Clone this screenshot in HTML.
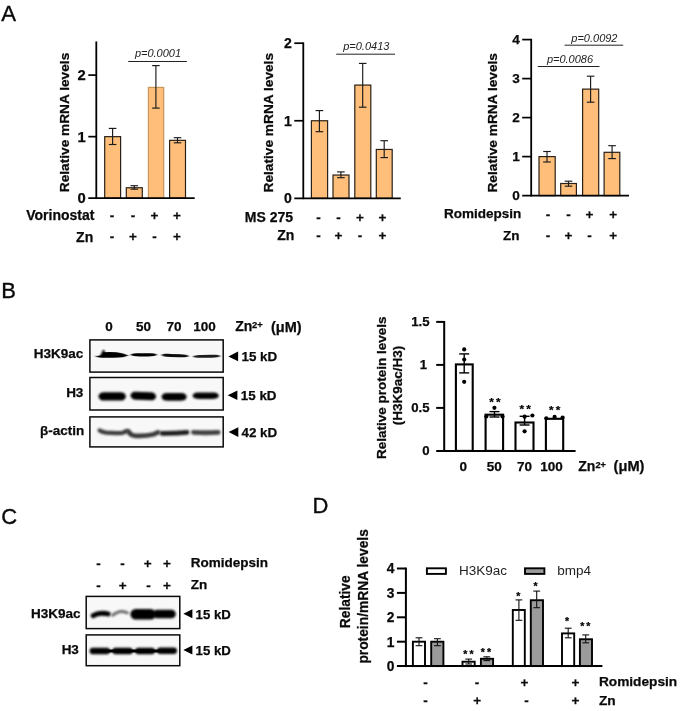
<!DOCTYPE html>
<html lang="en"><head><meta charset="utf-8"><title>Figure</title>
<style>html,body{margin:0;padding:0;background:#fff;}body{width:685px;height:711px;overflow:hidden;}svg{display:block;filter:blur(0.4px);}</style>
</head><body>
<svg width="685" height="711" viewBox="0 0 685 711">
<defs>
<filter id="b1" filterUnits="userSpaceOnUse" x="80" y="330" width="150" height="340"><feGaussianBlur stdDeviation="0.9 0.55"/></filter>
<filter id="b2" filterUnits="userSpaceOnUse" x="80" y="330" width="150" height="340"><feGaussianBlur stdDeviation="1.1 0.8"/></filter>
<filter id="b3" filterUnits="userSpaceOnUse" x="80" y="330" width="150" height="340"><feGaussianBlur stdDeviation="1.6 0.7"/></filter>
</defs>
<rect width="685" height="711" fill="#fff"/>
<text x="1.2" y="20.6" font-size="22.2" text-anchor="start" font-family="Liberation Sans, sans-serif" fill="#0a0a0a" stroke="#0a0a0a" stroke-width="0.35">A</text>
<text x="1.3" y="298.1" font-size="22" text-anchor="start" font-family="Liberation Sans, sans-serif" fill="#0a0a0a" stroke="#0a0a0a" stroke-width="0.35">B</text>
<text x="1.2" y="523.5" font-size="22" text-anchor="start" font-family="Liberation Sans, sans-serif" fill="#0a0a0a" stroke="#0a0a0a" stroke-width="0.35">C</text>
<text x="312.4" y="513.4" font-size="22" text-anchor="start" font-family="Liberation Sans, sans-serif" fill="#0a0a0a" stroke="#0a0a0a" stroke-width="0.35">D</text>
<rect x="104.70" y="136.65" width="15.90" height="61.55" fill="#ffbf7a" stroke="#2a2016" stroke-width="1.2"/>
<rect x="126.30" y="187.74" width="16.00" height="10.46" fill="#ffbf7a" stroke="#2a2016" stroke-width="1.2"/>
<rect x="148.40" y="87.41" width="15.30" height="110.79" fill="#ffbf7a" stroke="#c8965c" stroke-width="1.2"/>
<rect x="169.60" y="140.34" width="15.90" height="57.86" fill="#ffbf7a" stroke="#2a2016" stroke-width="1.2"/>
<line x1="112.6" y1="128.4" x2="112.6" y2="144.5" stroke="#1a1a1a" stroke-width="1.15"/>
<line x1="108.8" y1="128.4" x2="116.39999999999999" y2="128.4" stroke="#1a1a1a" stroke-width="1.15"/>
<line x1="108.8" y1="144.5" x2="116.39999999999999" y2="144.5" stroke="#1a1a1a" stroke-width="1.15"/>
<line x1="134.3" y1="185.7" x2="134.3" y2="189.2" stroke="#1a1a1a" stroke-width="1.15"/>
<line x1="130.5" y1="185.7" x2="138.10000000000002" y2="185.7" stroke="#1a1a1a" stroke-width="1.15"/>
<line x1="130.5" y1="189.2" x2="138.10000000000002" y2="189.2" stroke="#1a1a1a" stroke-width="1.15"/>
<line x1="155.9" y1="65.6" x2="155.9" y2="108.1" stroke="#1a1a1a" stroke-width="1.15"/>
<line x1="152.1" y1="65.6" x2="159.70000000000002" y2="65.6" stroke="#1a1a1a" stroke-width="1.15"/>
<line x1="152.1" y1="108.1" x2="159.70000000000002" y2="108.1" stroke="#1a1a1a" stroke-width="1.15"/>
<line x1="177.5" y1="137.7" x2="177.5" y2="142.8" stroke="#1a1a1a" stroke-width="1.15"/>
<line x1="173.7" y1="137.7" x2="181.3" y2="137.7" stroke="#1a1a1a" stroke-width="1.15"/>
<line x1="173.7" y1="142.8" x2="181.3" y2="142.8" stroke="#1a1a1a" stroke-width="1.15"/>
<line x1="96.3" y1="41.449999999999996" x2="96.3" y2="199.04999999999998" stroke="#000" stroke-width="1.8"/>
<line x1="88.3" y1="198.2" x2="194.7" y2="198.2" stroke="#000" stroke-width="1.8"/>
<text x="85.8" y="203.49839999999998" font-size="14.8" text-anchor="end" font-family="Liberation Sans, sans-serif" font-weight="bold" stroke="#0a0a0a" stroke-width="0.25" fill="#0a0a0a" >0</text>
<line x1="88.3" y1="136.64999999999998" x2="96.3" y2="136.64999999999998" stroke="#000" stroke-width="1.7"/>
<text x="85.8" y="141.94839999999996" font-size="14.8" text-anchor="end" font-family="Liberation Sans, sans-serif" font-weight="bold" stroke="#0a0a0a" stroke-width="0.25" fill="#0a0a0a" >1</text>
<line x1="88.3" y1="75.1" x2="96.3" y2="75.1" stroke="#000" stroke-width="1.7"/>
<text x="85.8" y="80.3984" font-size="14.8" text-anchor="end" font-family="Liberation Sans, sans-serif" font-weight="bold" stroke="#0a0a0a" stroke-width="0.25" fill="#0a0a0a" >2</text>
<text transform="translate(69.4,122.5) rotate(-90)" font-size="13.7" text-anchor="middle" font-family="Liberation Sans, sans-serif" font-weight="bold" stroke="#0a0a0a" stroke-width="0.25" fill="#0a0a0a">Relative mRNA levels</text>
<line x1="128.2" y1="61.5" x2="186.9" y2="61.5" stroke="#222" stroke-width="1.0"/>
<text x="158" y="57.1" font-size="11" text-anchor="middle" font-family="Liberation Sans, sans-serif" font-style="italic" fill="#222" >p=0.0001</text>
<text x="94.4" y="219.5" font-size="14" text-anchor="end" font-family="Liberation Sans, sans-serif" font-weight="bold" stroke="#0a0a0a" stroke-width="0.25" fill="#0a0a0a" >Vorinostat</text>
<text x="93.2" y="241.5" font-size="14" text-anchor="end" font-family="Liberation Sans, sans-serif" font-weight="bold" stroke="#0a0a0a" stroke-width="0.25" fill="#0a0a0a" >Zn</text>
<text x="112" y="219.6" font-size="13.5" text-anchor="middle" font-family="Liberation Sans, sans-serif" font-weight="bold" stroke="#0a0a0a" stroke-width="0.25" fill="#0a0a0a" >-</text>
<text x="133" y="219.6" font-size="13.5" text-anchor="middle" font-family="Liberation Sans, sans-serif" font-weight="bold" stroke="#0a0a0a" stroke-width="0.25" fill="#0a0a0a" >-</text>
<text x="154.5" y="219.6" font-size="13.5" text-anchor="middle" font-family="Liberation Sans, sans-serif" font-weight="bold" stroke="#0a0a0a" stroke-width="0.25" fill="#0a0a0a" >+</text>
<text x="177" y="219.6" font-size="13.5" text-anchor="middle" font-family="Liberation Sans, sans-serif" font-weight="bold" stroke="#0a0a0a" stroke-width="0.25" fill="#0a0a0a" >+</text>
<text x="112" y="241.3" font-size="13.5" text-anchor="middle" font-family="Liberation Sans, sans-serif" font-weight="bold" stroke="#0a0a0a" stroke-width="0.25" fill="#0a0a0a" >-</text>
<text x="133" y="241.3" font-size="13.5" text-anchor="middle" font-family="Liberation Sans, sans-serif" font-weight="bold" stroke="#0a0a0a" stroke-width="0.25" fill="#0a0a0a" >+</text>
<text x="154.5" y="241.3" font-size="13.5" text-anchor="middle" font-family="Liberation Sans, sans-serif" font-weight="bold" stroke="#0a0a0a" stroke-width="0.25" fill="#0a0a0a" >-</text>
<text x="177" y="241.3" font-size="13.5" text-anchor="middle" font-family="Liberation Sans, sans-serif" font-weight="bold" stroke="#0a0a0a" stroke-width="0.25" fill="#0a0a0a" >+</text>
<rect x="311.40" y="120.75" width="16.20" height="77.55" fill="#ffbf7a" stroke="#2a2016" stroke-width="1.2"/>
<rect x="333.00" y="175.04" width="16.00" height="23.26" fill="#ffbf7a" stroke="#2a2016" stroke-width="1.2"/>
<rect x="354.80" y="85.08" width="16.00" height="113.22" fill="#ffbf7a" stroke="#2a2016" stroke-width="1.2"/>
<rect x="376.30" y="149.44" width="15.90" height="48.86" fill="#ffbf7a" stroke="#2a2016" stroke-width="1.2"/>
<line x1="319.4" y1="110.6" x2="319.4" y2="131.7" stroke="#1a1a1a" stroke-width="1.15"/>
<line x1="315.59999999999997" y1="110.6" x2="323.2" y2="110.6" stroke="#1a1a1a" stroke-width="1.15"/>
<line x1="315.59999999999997" y1="131.7" x2="323.2" y2="131.7" stroke="#1a1a1a" stroke-width="1.15"/>
<line x1="340.9" y1="171.9" x2="340.9" y2="177.7" stroke="#1a1a1a" stroke-width="1.15"/>
<line x1="337.09999999999997" y1="171.9" x2="344.7" y2="171.9" stroke="#1a1a1a" stroke-width="1.15"/>
<line x1="337.09999999999997" y1="177.7" x2="344.7" y2="177.7" stroke="#1a1a1a" stroke-width="1.15"/>
<line x1="362.7" y1="63.4" x2="362.7" y2="107.2" stroke="#1a1a1a" stroke-width="1.15"/>
<line x1="358.9" y1="63.4" x2="366.5" y2="63.4" stroke="#1a1a1a" stroke-width="1.15"/>
<line x1="358.9" y1="107.2" x2="366.5" y2="107.2" stroke="#1a1a1a" stroke-width="1.15"/>
<line x1="384.2" y1="140.7" x2="384.2" y2="157.6" stroke="#1a1a1a" stroke-width="1.15"/>
<line x1="380.4" y1="140.7" x2="388.0" y2="140.7" stroke="#1a1a1a" stroke-width="1.15"/>
<line x1="380.4" y1="157.6" x2="388.0" y2="157.6" stroke="#1a1a1a" stroke-width="1.15"/>
<line x1="303.3" y1="42.35" x2="303.3" y2="199.15" stroke="#000" stroke-width="1.8"/>
<line x1="294.3" y1="198.3" x2="400.8" y2="198.3" stroke="#000" stroke-width="1.8"/>
<text x="291.8" y="203.312" font-size="14" text-anchor="end" font-family="Liberation Sans, sans-serif" font-weight="bold" stroke="#0a0a0a" stroke-width="0.25" fill="#0a0a0a" >0</text>
<line x1="294.3" y1="120.75000000000001" x2="303.3" y2="120.75000000000001" stroke="#000" stroke-width="1.7"/>
<text x="291.8" y="125.76200000000001" font-size="14" text-anchor="end" font-family="Liberation Sans, sans-serif" font-weight="bold" stroke="#0a0a0a" stroke-width="0.25" fill="#0a0a0a" >1</text>
<line x1="294.3" y1="43.20000000000002" x2="303.3" y2="43.20000000000002" stroke="#000" stroke-width="1.7"/>
<text x="291.8" y="48.21200000000002" font-size="14" text-anchor="end" font-family="Liberation Sans, sans-serif" font-weight="bold" stroke="#0a0a0a" stroke-width="0.25" fill="#0a0a0a" >2</text>
<text transform="translate(272.6,122.7) rotate(-90)" font-size="13.7" text-anchor="middle" font-family="Liberation Sans, sans-serif" font-weight="bold" stroke="#0a0a0a" stroke-width="0.25" fill="#0a0a0a">Relative mRNA levels</text>
<line x1="336.2" y1="54.2" x2="395" y2="54.2" stroke="#222" stroke-width="1.0"/>
<text x="366.3" y="50.3" font-size="11" text-anchor="middle" font-family="Liberation Sans, sans-serif" font-style="italic" fill="#222" >p=0.0413</text>
<text x="293.1" y="221.9" font-size="14" text-anchor="end" font-family="Liberation Sans, sans-serif" font-weight="bold" stroke="#0a0a0a" stroke-width="0.25" fill="#0a0a0a" >MS 275</text>
<text x="294.4" y="239.9" font-size="14" text-anchor="end" font-family="Liberation Sans, sans-serif" font-weight="bold" stroke="#0a0a0a" stroke-width="0.25" fill="#0a0a0a" >Zn</text>
<text x="318.5" y="222" font-size="13.5" text-anchor="middle" font-family="Liberation Sans, sans-serif" font-weight="bold" stroke="#0a0a0a" stroke-width="0.25" fill="#0a0a0a" >-</text>
<text x="338.4" y="222" font-size="13.5" text-anchor="middle" font-family="Liberation Sans, sans-serif" font-weight="bold" stroke="#0a0a0a" stroke-width="0.25" fill="#0a0a0a" >-</text>
<text x="360" y="222" font-size="13.5" text-anchor="middle" font-family="Liberation Sans, sans-serif" font-weight="bold" stroke="#0a0a0a" stroke-width="0.25" fill="#0a0a0a" >+</text>
<text x="382.4" y="222" font-size="13.5" text-anchor="middle" font-family="Liberation Sans, sans-serif" font-weight="bold" stroke="#0a0a0a" stroke-width="0.25" fill="#0a0a0a" >+</text>
<text x="318.5" y="239.9" font-size="13.5" text-anchor="middle" font-family="Liberation Sans, sans-serif" font-weight="bold" stroke="#0a0a0a" stroke-width="0.25" fill="#0a0a0a" >-</text>
<text x="338.4" y="239.9" font-size="13.5" text-anchor="middle" font-family="Liberation Sans, sans-serif" font-weight="bold" stroke="#0a0a0a" stroke-width="0.25" fill="#0a0a0a" >+</text>
<text x="360" y="239.9" font-size="13.5" text-anchor="middle" font-family="Liberation Sans, sans-serif" font-weight="bold" stroke="#0a0a0a" stroke-width="0.25" fill="#0a0a0a" >-</text>
<text x="382.4" y="239.9" font-size="13.5" text-anchor="middle" font-family="Liberation Sans, sans-serif" font-weight="bold" stroke="#0a0a0a" stroke-width="0.25" fill="#0a0a0a" >+</text>
<rect x="539.00" y="156.60" width="16.20" height="39.00" fill="#ffbf7a" stroke="#2a2016" stroke-width="1.2"/>
<rect x="560.70" y="183.51" width="15.70" height="12.09" fill="#ffbf7a" stroke="#2a2016" stroke-width="1.2"/>
<rect x="582.60" y="89.13" width="16.10" height="106.47" fill="#ffbf7a" stroke="#2a2016" stroke-width="1.2"/>
<rect x="604.10" y="152.31" width="15.70" height="43.29" fill="#ffbf7a" stroke="#2a2016" stroke-width="1.2"/>
<line x1="547" y1="151.5" x2="547" y2="162" stroke="#1a1a1a" stroke-width="1.15"/>
<line x1="543.2" y1="151.5" x2="550.8" y2="151.5" stroke="#1a1a1a" stroke-width="1.15"/>
<line x1="543.2" y1="162" x2="550.8" y2="162" stroke="#1a1a1a" stroke-width="1.15"/>
<line x1="568.5" y1="181.2" x2="568.5" y2="186.2" stroke="#1a1a1a" stroke-width="1.15"/>
<line x1="564.7" y1="181.2" x2="572.3" y2="181.2" stroke="#1a1a1a" stroke-width="1.15"/>
<line x1="564.7" y1="186.2" x2="572.3" y2="186.2" stroke="#1a1a1a" stroke-width="1.15"/>
<line x1="590.6" y1="76.2" x2="590.6" y2="102.2" stroke="#1a1a1a" stroke-width="1.15"/>
<line x1="586.8000000000001" y1="76.2" x2="594.4" y2="76.2" stroke="#1a1a1a" stroke-width="1.15"/>
<line x1="586.8000000000001" y1="102.2" x2="594.4" y2="102.2" stroke="#1a1a1a" stroke-width="1.15"/>
<line x1="612.1" y1="145.7" x2="612.1" y2="158.6" stroke="#1a1a1a" stroke-width="1.15"/>
<line x1="608.3000000000001" y1="145.7" x2="615.9" y2="145.7" stroke="#1a1a1a" stroke-width="1.15"/>
<line x1="608.3000000000001" y1="158.6" x2="615.9" y2="158.6" stroke="#1a1a1a" stroke-width="1.15"/>
<line x1="531.2" y1="38.85" x2="531.2" y2="196.45" stroke="#000" stroke-width="1.8"/>
<line x1="522.2" y1="195.6" x2="629" y2="195.6" stroke="#000" stroke-width="1.8"/>
<text x="519.7" y="200.4688" font-size="13.6" text-anchor="end" font-family="Liberation Sans, sans-serif" font-weight="bold" stroke="#0a0a0a" stroke-width="0.25" fill="#0a0a0a" >0</text>
<line x1="522.2" y1="156.6" x2="531.2" y2="156.6" stroke="#000" stroke-width="1.7"/>
<text x="519.7" y="161.4688" font-size="13.6" text-anchor="end" font-family="Liberation Sans, sans-serif" font-weight="bold" stroke="#0a0a0a" stroke-width="0.25" fill="#0a0a0a" >1</text>
<line x1="522.2" y1="117.6" x2="531.2" y2="117.6" stroke="#000" stroke-width="1.7"/>
<text x="519.7" y="122.46879999999999" font-size="13.6" text-anchor="end" font-family="Liberation Sans, sans-serif" font-weight="bold" stroke="#0a0a0a" stroke-width="0.25" fill="#0a0a0a" >2</text>
<line x1="522.2" y1="78.6" x2="531.2" y2="78.6" stroke="#000" stroke-width="1.7"/>
<text x="519.7" y="83.46879999999999" font-size="13.6" text-anchor="end" font-family="Liberation Sans, sans-serif" font-weight="bold" stroke="#0a0a0a" stroke-width="0.25" fill="#0a0a0a" >3</text>
<line x1="522.2" y1="39.599999999999994" x2="531.2" y2="39.599999999999994" stroke="#000" stroke-width="1.7"/>
<text x="519.7" y="44.468799999999995" font-size="13.6" text-anchor="end" font-family="Liberation Sans, sans-serif" font-weight="bold" stroke="#0a0a0a" stroke-width="0.25" fill="#0a0a0a" >4</text>
<text transform="translate(497.3,122.8) rotate(-90)" font-size="13.7" text-anchor="middle" font-family="Liberation Sans, sans-serif" font-weight="bold" stroke="#0a0a0a" stroke-width="0.25" fill="#0a0a0a">Relative mRNA levels</text>
<line x1="564.6" y1="45.2" x2="623.2" y2="45.2" stroke="#222" stroke-width="1.0"/>
<text x="594.4" y="42.1" font-size="11" text-anchor="middle" font-family="Liberation Sans, sans-serif" font-style="italic" fill="#222" >p=0.0092</text>
<line x1="537.8" y1="66.5" x2="599.5" y2="66.5" stroke="#222" stroke-width="1.0"/>
<text x="570" y="62.6" font-size="11" text-anchor="middle" font-family="Liberation Sans, sans-serif" font-style="italic" fill="#222" >p=0.0086</text>
<text x="521.2" y="218.4" font-size="13.5" text-anchor="end" font-family="Liberation Sans, sans-serif" font-weight="bold" stroke="#0a0a0a" stroke-width="0.25" fill="#0a0a0a" >Romidepsin</text>
<text x="519.6" y="240.2" font-size="13.5" text-anchor="end" font-family="Liberation Sans, sans-serif" font-weight="bold" stroke="#0a0a0a" stroke-width="0.25" fill="#0a0a0a" >Zn</text>
<text x="548" y="219.0" font-size="13.5" text-anchor="middle" font-family="Liberation Sans, sans-serif" font-weight="bold" stroke="#0a0a0a" stroke-width="0.25" fill="#0a0a0a" >-</text>
<text x="568.5" y="219.0" font-size="13.5" text-anchor="middle" font-family="Liberation Sans, sans-serif" font-weight="bold" stroke="#0a0a0a" stroke-width="0.25" fill="#0a0a0a" >-</text>
<text x="589.5" y="219.0" font-size="13.5" text-anchor="middle" font-family="Liberation Sans, sans-serif" font-weight="bold" stroke="#0a0a0a" stroke-width="0.25" fill="#0a0a0a" >+</text>
<text x="613.1" y="219.0" font-size="13.5" text-anchor="middle" font-family="Liberation Sans, sans-serif" font-weight="bold" stroke="#0a0a0a" stroke-width="0.25" fill="#0a0a0a" >+</text>
<text x="548" y="239.6" font-size="13.5" text-anchor="middle" font-family="Liberation Sans, sans-serif" font-weight="bold" stroke="#0a0a0a" stroke-width="0.25" fill="#0a0a0a" >-</text>
<text x="568.5" y="239.6" font-size="13.5" text-anchor="middle" font-family="Liberation Sans, sans-serif" font-weight="bold" stroke="#0a0a0a" stroke-width="0.25" fill="#0a0a0a" >+</text>
<text x="589.5" y="239.6" font-size="13.5" text-anchor="middle" font-family="Liberation Sans, sans-serif" font-weight="bold" stroke="#0a0a0a" stroke-width="0.25" fill="#0a0a0a" >-</text>
<text x="613.1" y="239.6" font-size="13.5" text-anchor="middle" font-family="Liberation Sans, sans-serif" font-weight="bold" stroke="#0a0a0a" stroke-width="0.25" fill="#0a0a0a" >+</text>
<text x="109" y="331.3" font-size="13.5" text-anchor="middle" font-family="Liberation Sans, sans-serif" font-weight="bold" stroke="#0a0a0a" stroke-width="0.25" fill="#0a0a0a" >0</text>
<text x="143.5" y="331.3" font-size="13.5" text-anchor="middle" font-family="Liberation Sans, sans-serif" font-weight="bold" stroke="#0a0a0a" stroke-width="0.25" fill="#0a0a0a" >50</text>
<text x="173.9" y="331.3" font-size="13.5" text-anchor="middle" font-family="Liberation Sans, sans-serif" font-weight="bold" stroke="#0a0a0a" stroke-width="0.25" fill="#0a0a0a" >70</text>
<text x="204.4" y="331.3" font-size="13.5" text-anchor="middle" font-family="Liberation Sans, sans-serif" font-weight="bold" stroke="#0a0a0a" stroke-width="0.25" fill="#0a0a0a" >100</text>
<text x="235.3" y="331.4" font-size="14" font-family="Liberation Sans, sans-serif" font-weight="bold" stroke="#0a0a0a" stroke-width="0.25" fill="#0a0a0a">Zn<tspan font-size="9.4" dy="-3.2" dx="-0.4">2+</tspan></text>
<text x="271.0" y="331.5" font-size="14.5" text-anchor="start" font-family="Liberation Sans, sans-serif" font-weight="bold" stroke="#0a0a0a" stroke-width="0.25" fill="#0a0a0a" >(μM)</text>
<rect x="89.90" y="339.90" width="133.30" height="32.20" fill="#f8f8f8" stroke="#0a0a0a" stroke-width="1.5"/>
<path d="M93.3 354.4 Q96.5 357.0 100.3 355.2 L101.8 352.4 L103.5 348.8 L105.0 352.2 Q116 351.8 123 353.4 L128.6 355.5 L123 357.2 Q112 358.0 101 357.8 Q96 357.4 93.3 354.4Z" fill="#020202" filter="url(#b1)"/>
<path d="M130.4 354.80 C131.90 353.40 134.60 353.15 139.40 353.15 L148.20 353.15 C153.00 353.15 155.70 353.40 157.2 354.80 C155.70 356.20 153.00 356.45 148.20 356.45 L139.40 356.45 C134.60 356.45 131.90 356.20 130.4 354.80Z" fill="#050505" opacity="1" filter="url(#b1)"/>
<path d="M161.2 355.10 C162.70 353.78 165.40 353.77 170.20 353.88 L179.80 354.22 C184.60 354.33 187.30 354.78 188.8 356.10 C187.30 357.42 184.60 357.43 179.80 357.32 L170.20 356.98 C165.40 356.87 162.70 356.42 161.2 355.10Z" fill="#080808" opacity="1" filter="url(#b1)"/>
<path d="M192.8 356.60 C194.30 355.37 197.00 355.02 201.80 354.96 L211.60 354.74 C216.40 354.68 219.10 354.77 220.6 356.00 C219.10 357.23 216.40 357.58 211.60 357.64 L201.80 357.86 C197.00 357.92 194.30 357.83 192.8 356.60Z" fill="#1a1a1a" opacity="1" filter="url(#b1)"/>
<rect x="89.90" y="377.50" width="133.30" height="32.50" fill="#f8f8f8" stroke="#0a0a0a" stroke-width="1.5"/>
<path d="M98.4 396.40 C99.40 392.91 101.20 392.30 104.40 392.30 L120.00 392.30 C123.20 392.30 125.00 392.91 126.0 396.40 C125.00 399.88 123.20 400.50 120.00 400.50 L104.40 400.50 C101.20 400.50 99.40 399.88 98.4 396.40Z" fill="#000" opacity="1" filter="url(#b2)"/>
<path d="M130.4 395.60 C131.40 392.20 133.20 391.72 136.40 391.79 L150.20 392.21 C153.40 392.28 155.20 393.00 156.2 396.40 C155.20 399.80 153.40 400.28 150.20 400.21 L136.40 399.79 C133.20 399.72 131.40 399.00 130.4 395.60Z" fill="#000" opacity="1" filter="url(#b2)"/>
<path d="M161.4 396.80 C162.40 393.49 164.20 392.90 167.40 392.90 L180.80 392.90 C184.00 392.90 185.80 393.49 186.8 396.80 C185.80 400.12 184.00 400.70 180.80 400.70 L167.40 400.70 C164.20 400.70 162.40 400.12 161.4 396.80Z" fill="#000" opacity="1" filter="url(#b2)"/>
<path d="M192.4 395.80 C193.53 393.08 195.55 392.60 199.15 392.60 L212.25 392.60 C215.85 392.60 217.88 393.08 219.0 395.80 C217.88 398.52 215.85 399.00 212.25 399.00 L199.15 399.00 C195.55 399.00 193.53 398.52 192.4 395.80Z" fill="#000" opacity="1" filter="url(#b2)"/>
<rect x="89.90" y="416.90" width="133.30" height="30.00" fill="#f8f8f8" stroke="#0a0a0a" stroke-width="1.5"/>
<path d="M99.6 430.4 Q101.5 432.0 106 432.6 Q115 433.4 122.5 432.8 Q125 432.2 126.6 431.0" fill="none" stroke="#3a3a3a" stroke-width="4.2" stroke-linecap="round" stroke-linejoin="round" filter="url(#b2)"/>
<path d="M128.6 431.6 Q130.4 435.0 134 435.6 Q144 436.4 153 434.6 Q156 433.4 158 432.4" fill="none" stroke="#383838" stroke-width="4.6" stroke-linecap="round" stroke-linejoin="round" filter="url(#b2)"/>
<path d="M162 433.4 Q174 433.6 187 432.4" fill="none" stroke="#1c1c1c" stroke-width="4.8" stroke-linecap="round" stroke-linejoin="round" filter="url(#b2)"/>
<path d="M193.4 432.3 Q205.7 433.2 218.2 432.3" fill="none" stroke="#404040" stroke-width="4.8" stroke-linecap="round" stroke-linejoin="round" filter="url(#b2)"/>
<text x="83.2" y="357.6" font-size="13.5" text-anchor="end" font-family="Liberation Sans, sans-serif" font-weight="bold" stroke="#0a0a0a" stroke-width="0.25" fill="#0a0a0a" >H3K9ac</text>
<text x="83.4" y="396.9" font-size="13.5" text-anchor="end" font-family="Liberation Sans, sans-serif" font-weight="bold" stroke="#0a0a0a" stroke-width="0.25" fill="#0a0a0a" >H3</text>
<text x="84.3" y="434.9" font-size="13.5" text-anchor="end" font-family="Liberation Sans, sans-serif" font-weight="bold" stroke="#0a0a0a" stroke-width="0.25" fill="#0a0a0a" >β-actin</text>
<polygon points="228.4,356.4 238.1,351.59999999999997 238.1,361.2" fill="#000"/>
<polygon points="227.7,395.2 237.39999999999998,390.4 237.39999999999998,400.0" fill="#000"/>
<polygon points="228.6,432.1 238.29999999999998,427.3 238.29999999999998,436.90000000000003" fill="#000"/>
<text x="241.5" y="361.1" font-size="13.4" text-anchor="start" font-family="Liberation Sans, sans-serif" font-weight="bold" stroke="#0a0a0a" stroke-width="0.25" fill="#0a0a0a" >15 kD</text>
<text x="240.8" y="399.8" font-size="13.4" text-anchor="start" font-family="Liberation Sans, sans-serif" font-weight="bold" stroke="#0a0a0a" stroke-width="0.25" fill="#0a0a0a" >15 kD</text>
<text x="241.5" y="436.8" font-size="13.4" text-anchor="start" font-family="Liberation Sans, sans-serif" font-weight="bold" stroke="#0a0a0a" stroke-width="0.25" fill="#0a0a0a" >42 kD</text>
<rect x="455.90" y="364.40" width="16.80" height="86.50" fill="#fff" stroke="#000" stroke-width="2.1"/>
<rect x="485.60" y="414.70" width="17.50" height="36.20" fill="#fff" stroke="#000" stroke-width="2.1"/>
<rect x="515.50" y="422.50" width="18.00" height="28.40" fill="#fff" stroke="#000" stroke-width="2.1"/>
<rect x="545.90" y="418.80" width="17.30" height="32.10" fill="#fff" stroke="#000" stroke-width="2.1"/>
<line x1="464.2" y1="353.9" x2="464.2" y2="372.9" stroke="#000" stroke-width="1.4"/>
<line x1="459.2" y1="353.9" x2="469.2" y2="353.9" stroke="#000" stroke-width="1.4"/>
<line x1="459.2" y1="372.9" x2="469.2" y2="372.9" stroke="#000" stroke-width="1.4"/>
<line x1="494.5" y1="411.6" x2="494.5" y2="417.0" stroke="#000" stroke-width="1.4"/>
<line x1="489.5" y1="411.6" x2="499.5" y2="411.6" stroke="#000" stroke-width="1.4"/>
<line x1="489.5" y1="417.0" x2="499.5" y2="417.0" stroke="#000" stroke-width="1.4"/>
<line x1="524.6" y1="416.3" x2="524.6" y2="425.0" stroke="#000" stroke-width="1.4"/>
<line x1="519.6" y1="416.3" x2="529.6" y2="416.3" stroke="#000" stroke-width="1.4"/>
<line x1="519.6" y1="425.0" x2="529.6" y2="425.0" stroke="#000" stroke-width="1.4"/>
<circle cx="464.2" cy="349.4" r="2.1" fill="#000"/>
<circle cx="464.2" cy="359.5" r="2.1" fill="#000"/>
<circle cx="464.2" cy="381.8" r="2.1" fill="#000"/>
<circle cx="494.4" cy="407.8" r="2.1" fill="#000"/>
<circle cx="486.3" cy="416.4" r="2.1" fill="#000"/>
<circle cx="502.5" cy="416.4" r="2.1" fill="#000"/>
<circle cx="532.4" cy="415.5" r="2.1" fill="#000"/>
<circle cx="524.6" cy="416.7" r="2.1" fill="#000"/>
<circle cx="524.6" cy="431.3" r="2.1" fill="#000"/>
<circle cx="546.3" cy="418.3" r="2.1" fill="#000"/>
<circle cx="554.6" cy="416.9" r="2.1" fill="#000"/>
<circle cx="562.6" cy="417.6" r="2.1" fill="#000"/>
<line x1="444.2" y1="321" x2="444.2" y2="451.9" stroke="#000" stroke-width="2.0"/>
<line x1="436.2" y1="450.9" x2="575.6" y2="450.9" stroke="#000" stroke-width="2.0"/>
<text x="429.6" y="454.7" font-size="13.2" text-anchor="end" font-family="Liberation Sans, sans-serif" font-weight="bold" stroke="#0a0a0a" stroke-width="0.25" fill="#0a0a0a" >0</text>
<line x1="436.2" y1="407.9" x2="444.2" y2="407.9" stroke="#000" stroke-width="2.0"/>
<text x="429.6" y="412.2" font-size="13.2" text-anchor="end" font-family="Liberation Sans, sans-serif" font-weight="bold" stroke="#0a0a0a" stroke-width="0.25" fill="#0a0a0a" >0.5</text>
<line x1="436.2" y1="364.9" x2="444.2" y2="364.9" stroke="#000" stroke-width="2.0"/>
<text x="427.2" y="369.2" font-size="13.2" text-anchor="end" font-family="Liberation Sans, sans-serif" font-weight="bold" stroke="#0a0a0a" stroke-width="0.25" fill="#0a0a0a" >1</text>
<line x1="436.2" y1="321.9" x2="444.2" y2="321.9" stroke="#000" stroke-width="2.0"/>
<text x="429.6" y="326.2" font-size="13.2" text-anchor="end" font-family="Liberation Sans, sans-serif" font-weight="bold" stroke="#0a0a0a" stroke-width="0.25" fill="#0a0a0a" >1.5</text>
<text transform="translate(386.0,387.8) rotate(-90)" font-size="13.5" text-anchor="middle" font-family="Liberation Sans, sans-serif" font-weight="bold" stroke="#0a0a0a" stroke-width="0.25" fill="#0a0a0a">Relative protein levels</text>
<text transform="translate(402.4,385.5) rotate(-90)" font-size="13.5" text-anchor="middle" font-family="Liberation Sans, sans-serif" font-weight="bold" stroke="#0a0a0a" stroke-width="0.25" fill="#0a0a0a">(H3K9ac/H3)</text>
<text x="495.95" y="406.15" font-size="11.8" text-anchor="middle" font-family="Liberation Sans, sans-serif" font-weight="bold" stroke="#0a0a0a" stroke-width="0.25" fill="#000" letter-spacing="2.1">**</text>
<text x="526.15" y="412.75" font-size="11.8" text-anchor="middle" font-family="Liberation Sans, sans-serif" font-weight="bold" stroke="#0a0a0a" stroke-width="0.25" fill="#000" letter-spacing="2.1">**</text>
<text x="555.75" y="413.55" font-size="11.8" text-anchor="middle" font-family="Liberation Sans, sans-serif" font-weight="bold" stroke="#0a0a0a" stroke-width="0.25" fill="#000" letter-spacing="2.1">**</text>
<text x="463.2" y="470.7" font-size="13.5" text-anchor="middle" font-family="Liberation Sans, sans-serif" font-weight="bold" stroke="#0a0a0a" stroke-width="0.25" fill="#0a0a0a" >0</text>
<text x="494.2" y="470.7" font-size="13.5" text-anchor="middle" font-family="Liberation Sans, sans-serif" font-weight="bold" stroke="#0a0a0a" stroke-width="0.25" fill="#0a0a0a" >50</text>
<text x="524.4" y="470.7" font-size="13.5" text-anchor="middle" font-family="Liberation Sans, sans-serif" font-weight="bold" stroke="#0a0a0a" stroke-width="0.25" fill="#0a0a0a" >70</text>
<text x="551.5" y="470.7" font-size="13.5" text-anchor="middle" font-family="Liberation Sans, sans-serif" font-weight="bold" stroke="#0a0a0a" stroke-width="0.25" fill="#0a0a0a" >100</text>
<text x="578.2" y="470.9" font-size="14" font-family="Liberation Sans, sans-serif" font-weight="bold" stroke="#0a0a0a" stroke-width="0.25" fill="#0a0a0a">Zn<tspan font-size="9.2" dy="-3.2" dx="0.2">2+</tspan></text>
<text x="613.6" y="471.1" font-size="14.6" text-anchor="start" font-family="Liberation Sans, sans-serif" font-weight="bold" stroke="#0a0a0a" stroke-width="0.25" fill="#0a0a0a" >(μM)</text>
<text x="98.5" y="567.5" font-size="13.5" text-anchor="middle" font-family="Liberation Sans, sans-serif" font-weight="bold" stroke="#0a0a0a" stroke-width="0.25" fill="#0a0a0a" >-</text>
<text x="122.4" y="567.5" font-size="13.5" text-anchor="middle" font-family="Liberation Sans, sans-serif" font-weight="bold" stroke="#0a0a0a" stroke-width="0.25" fill="#0a0a0a" >-</text>
<text x="147.6" y="567.5" font-size="13.5" text-anchor="middle" font-family="Liberation Sans, sans-serif" font-weight="bold" stroke="#0a0a0a" stroke-width="0.25" fill="#0a0a0a" >+</text>
<text x="167" y="567.5" font-size="13.5" text-anchor="middle" font-family="Liberation Sans, sans-serif" font-weight="bold" stroke="#0a0a0a" stroke-width="0.25" fill="#0a0a0a" >+</text>
<text x="98.5" y="589.6" font-size="13.5" text-anchor="middle" font-family="Liberation Sans, sans-serif" font-weight="bold" stroke="#0a0a0a" stroke-width="0.25" fill="#0a0a0a" >-</text>
<text x="122.6" y="589.6" font-size="13.5" text-anchor="middle" font-family="Liberation Sans, sans-serif" font-weight="bold" stroke="#0a0a0a" stroke-width="0.25" fill="#0a0a0a" >+</text>
<text x="148.6" y="589.6" font-size="13.5" text-anchor="middle" font-family="Liberation Sans, sans-serif" font-weight="bold" stroke="#0a0a0a" stroke-width="0.25" fill="#0a0a0a" >-</text>
<text x="167" y="589.6" font-size="13.5" text-anchor="middle" font-family="Liberation Sans, sans-serif" font-weight="bold" stroke="#0a0a0a" stroke-width="0.25" fill="#0a0a0a" >+</text>
<text x="190.8" y="567.0" font-size="13.5" text-anchor="start" font-family="Liberation Sans, sans-serif" font-weight="bold" stroke="#0a0a0a" stroke-width="0.25" fill="#0a0a0a" >Romidepsin</text>
<text x="190.8" y="589.4" font-size="13.5" text-anchor="start" font-family="Liberation Sans, sans-serif" font-weight="bold" stroke="#0a0a0a" stroke-width="0.25" fill="#0a0a0a" >Zn</text>
<rect x="86.20" y="596.40" width="93.60" height="32.20" fill="#f8f8f8" stroke="#0a0a0a" stroke-width="1.5"/>
<path d="M93.2 615.6 Q97 613.2 102 613.2 Q106 613.2 108.2 614.0" fill="none" stroke="#050505" stroke-width="5.0" stroke-linecap="round" filter="url(#b2)"/>
<path d="M112.6 615.2 Q118 611.4 122 611.6 Q125 612.0 127.4 612.8" fill="none" stroke="#6a6a6a" stroke-width="3.0" stroke-linecap="round" filter="url(#b2)"/>
<rect x="130.4" y="608.90" width="25.60" height="10.6" rx="5.3" fill="#000" opacity="1" filter="url(#b2)"/>
<rect x="153" y="609.70" width="22.80" height="8.6" rx="4.3" fill="#000" opacity="1" filter="url(#b2)"/>
<rect x="86.20" y="634.90" width="93.60" height="30.80" fill="#f8f8f8" stroke="#0a0a0a" stroke-width="1.5"/>
<rect x="89.6" y="647.80" width="20.40" height="6.4" rx="3.2" fill="#000" opacity="1" filter="url(#b2)"/>
<rect x="112.4" y="647.80" width="20.40" height="6.4" rx="3.2" fill="#000" opacity="1" filter="url(#b2)"/>
<rect x="135.2" y="647.70" width="19.80" height="6.6" rx="3.3" fill="#000" opacity="1" filter="url(#b2)"/>
<rect x="157" y="647.50" width="20.00" height="6.6" rx="3.3" fill="#000" opacity="1" filter="url(#b2)"/>
<line x1="108" y1="651.0" x2="160" y2="651.0" stroke="#000" stroke-width="3"/>
<text x="80.6" y="617.8" font-size="13.5" text-anchor="end" font-family="Liberation Sans, sans-serif" font-weight="bold" stroke="#0a0a0a" stroke-width="0.25" fill="#0a0a0a" >H3K9ac</text>
<text x="78.9" y="654.4" font-size="13.5" text-anchor="end" font-family="Liberation Sans, sans-serif" font-weight="bold" stroke="#0a0a0a" stroke-width="0.25" fill="#0a0a0a" >H3</text>
<polygon points="183.4,613.8 192.4,609.3 192.4,618.3" fill="#000"/>
<polygon points="183.4,650.0 192.4,645.5 192.4,654.5" fill="#000"/>
<text x="195.6" y="618.6" font-size="13.2" text-anchor="start" font-family="Liberation Sans, sans-serif" font-weight="bold" stroke="#0a0a0a" stroke-width="0.25" fill="#0a0a0a" >15 kD</text>
<text x="195.6" y="654.6" font-size="13.2" text-anchor="start" font-family="Liberation Sans, sans-serif" font-weight="bold" stroke="#0a0a0a" stroke-width="0.25" fill="#0a0a0a" >15 kD</text>
<rect x="412.90" y="641.70" width="12.10" height="24.40" fill="#fff" stroke="#000" stroke-width="1.9"/>
<rect x="431.20" y="641.70" width="12.20" height="24.40" fill="#9b9b9b" stroke="#000" stroke-width="1.9"/>
<rect x="462.50" y="661.71" width="12.20" height="4.39" fill="#fff" stroke="#000" stroke-width="1.9"/>
<rect x="480.90" y="658.78" width="12.20" height="7.32" fill="#9b9b9b" stroke="#000" stroke-width="1.9"/>
<rect x="512.80" y="609.98" width="12.00" height="56.12" fill="#fff" stroke="#000" stroke-width="1.9"/>
<rect x="530.80" y="600.22" width="12.20" height="65.88" fill="#9b9b9b" stroke="#000" stroke-width="1.9"/>
<rect x="562.00" y="633.40" width="12.20" height="32.70" fill="#fff" stroke="#000" stroke-width="1.9"/>
<rect x="579.90" y="639.26" width="12.10" height="26.84" fill="#9b9b9b" stroke="#000" stroke-width="1.9"/>
<line x1="419" y1="637.8" x2="419" y2="645.7" stroke="#111" stroke-width="1.1"/>
<line x1="415.6" y1="637.8" x2="422.4" y2="637.8" stroke="#111" stroke-width="1.1"/>
<line x1="415.6" y1="645.7" x2="422.4" y2="645.7" stroke="#111" stroke-width="1.1"/>
<line x1="437.4" y1="638.7" x2="437.4" y2="645.7" stroke="#111" stroke-width="1.1"/>
<line x1="434.0" y1="638.7" x2="440.79999999999995" y2="638.7" stroke="#111" stroke-width="1.1"/>
<line x1="434.0" y1="645.7" x2="440.79999999999995" y2="645.7" stroke="#111" stroke-width="1.1"/>
<line x1="468.7" y1="659.1" x2="468.7" y2="664" stroke="#111" stroke-width="1.1"/>
<line x1="465.3" y1="659.1" x2="472.09999999999997" y2="659.1" stroke="#111" stroke-width="1.1"/>
<line x1="465.3" y1="664" x2="472.09999999999997" y2="664" stroke="#111" stroke-width="1.1"/>
<line x1="486.8" y1="656.8" x2="486.8" y2="660.6" stroke="#111" stroke-width="1.1"/>
<line x1="483.40000000000003" y1="656.8" x2="490.2" y2="656.8" stroke="#111" stroke-width="1.1"/>
<line x1="483.40000000000003" y1="660.6" x2="490.2" y2="660.6" stroke="#111" stroke-width="1.1"/>
<line x1="518.9" y1="599.9" x2="518.9" y2="620.3" stroke="#111" stroke-width="1.1"/>
<line x1="515.5" y1="599.9" x2="522.3" y2="599.9" stroke="#111" stroke-width="1.1"/>
<line x1="515.5" y1="620.3" x2="522.3" y2="620.3" stroke="#111" stroke-width="1.1"/>
<line x1="536.7" y1="591.1" x2="536.7" y2="607.7" stroke="#111" stroke-width="1.1"/>
<line x1="533.3000000000001" y1="591.1" x2="540.1" y2="591.1" stroke="#111" stroke-width="1.1"/>
<line x1="533.3000000000001" y1="607.7" x2="540.1" y2="607.7" stroke="#111" stroke-width="1.1"/>
<line x1="568.2" y1="628.2" x2="568.2" y2="637.8" stroke="#111" stroke-width="1.1"/>
<line x1="564.8000000000001" y1="628.2" x2="571.6" y2="628.2" stroke="#111" stroke-width="1.1"/>
<line x1="564.8000000000001" y1="637.8" x2="571.6" y2="637.8" stroke="#111" stroke-width="1.1"/>
<line x1="585.7" y1="634.9" x2="585.7" y2="642.8" stroke="#111" stroke-width="1.1"/>
<line x1="582.3000000000001" y1="634.9" x2="589.1" y2="634.9" stroke="#111" stroke-width="1.1"/>
<line x1="582.3000000000001" y1="642.8" x2="589.1" y2="642.8" stroke="#111" stroke-width="1.1"/>
<line x1="405.9" y1="567.6" x2="405.9" y2="667.1" stroke="#000" stroke-width="2.0"/>
<line x1="396.9" y1="666.1" x2="602.4" y2="666.1" stroke="#000" stroke-width="2.0"/>
<text x="394.5" y="671.0" font-size="13.8" text-anchor="end" font-family="Liberation Sans, sans-serif" font-weight="bold" stroke="#0a0a0a" stroke-width="0.25" fill="#0a0a0a" >0</text>
<line x1="396.9" y1="641.7" x2="405.9" y2="641.7" stroke="#000" stroke-width="2.0"/>
<text x="394.5" y="646.6" font-size="13.8" text-anchor="end" font-family="Liberation Sans, sans-serif" font-weight="bold" stroke="#0a0a0a" stroke-width="0.25" fill="#0a0a0a" >1</text>
<line x1="396.9" y1="617.3000000000001" x2="405.9" y2="617.3000000000001" stroke="#000" stroke-width="2.0"/>
<text x="394.5" y="622.2" font-size="13.8" text-anchor="end" font-family="Liberation Sans, sans-serif" font-weight="bold" stroke="#0a0a0a" stroke-width="0.25" fill="#0a0a0a" >2</text>
<line x1="396.9" y1="592.9000000000001" x2="405.9" y2="592.9000000000001" stroke="#000" stroke-width="2.0"/>
<text x="394.5" y="597.8000000000001" font-size="13.8" text-anchor="end" font-family="Liberation Sans, sans-serif" font-weight="bold" stroke="#0a0a0a" stroke-width="0.25" fill="#0a0a0a" >3</text>
<line x1="396.9" y1="568.5" x2="405.9" y2="568.5" stroke="#000" stroke-width="2.0"/>
<text x="394.5" y="573.4" font-size="13.8" text-anchor="end" font-family="Liberation Sans, sans-serif" font-weight="bold" stroke="#0a0a0a" stroke-width="0.25" fill="#0a0a0a" >4</text>
<text transform="translate(350.3,601.8) rotate(-90)" font-size="13.8" text-anchor="middle" font-family="Liberation Sans, sans-serif" font-weight="bold" stroke="#0a0a0a" stroke-width="0.25" fill="#0a0a0a">Relative</text>
<text transform="translate(368.0,596.4) rotate(-90)" font-size="13.8" text-anchor="middle" font-family="Liberation Sans, sans-serif" font-weight="bold" stroke="#0a0a0a" stroke-width="0.25" fill="#0a0a0a">protein/mRNA levels</text>
<rect x="426.90" y="568.30" width="19.00" height="5.60" fill="#fff" stroke="#000" stroke-width="1.9"/>
<text x="459.0" y="575.2" font-size="13.5" text-anchor="start" font-family="Liberation Sans, sans-serif" fill="#222" >H3K9ac</text>
<rect x="525.00" y="568.30" width="19.40" height="5.60" fill="#9b9b9b" stroke="#000" stroke-width="1.9"/>
<text x="557.2" y="575.2" font-size="13.5" text-anchor="start" font-family="Liberation Sans, sans-serif" fill="#222" >bmp4</text>
<text x="469.45" y="657.89" font-size="10.5" text-anchor="middle" font-family="Liberation Sans, sans-serif" font-weight="bold" stroke="#0a0a0a" stroke-width="0.25" fill="#000" letter-spacing="2.1">**</text>
<text x="487.05" y="655.59" font-size="10.5" text-anchor="middle" font-family="Liberation Sans, sans-serif" font-weight="bold" stroke="#0a0a0a" stroke-width="0.25" fill="#000" letter-spacing="2.1">**</text>
<text x="519.25" y="599.59" font-size="10.5" text-anchor="middle" font-family="Liberation Sans, sans-serif" font-weight="bold" stroke="#0a0a0a" stroke-width="0.25" fill="#000" letter-spacing="2.1">*</text>
<text x="536.65" y="589.99" font-size="10.5" text-anchor="middle" font-family="Liberation Sans, sans-serif" font-weight="bold" stroke="#0a0a0a" stroke-width="0.25" fill="#000" letter-spacing="2.1">*</text>
<text x="568.15" y="625.29" font-size="10.5" text-anchor="middle" font-family="Liberation Sans, sans-serif" font-weight="bold" stroke="#0a0a0a" stroke-width="0.25" fill="#000" letter-spacing="2.1">*</text>
<text x="586.35" y="629.59" font-size="10.5" text-anchor="middle" font-family="Liberation Sans, sans-serif" font-weight="bold" stroke="#0a0a0a" stroke-width="0.25" fill="#000" letter-spacing="2.1">**</text>
<text x="425.5" y="686.6" font-size="13.5" text-anchor="middle" font-family="Liberation Sans, sans-serif" font-weight="bold" stroke="#0a0a0a" stroke-width="0.25" fill="#0a0a0a" >-</text>
<text x="477" y="686.6" font-size="13.5" text-anchor="middle" font-family="Liberation Sans, sans-serif" font-weight="bold" stroke="#0a0a0a" stroke-width="0.25" fill="#0a0a0a" >-</text>
<text x="524.4" y="686.6" font-size="13.5" text-anchor="middle" font-family="Liberation Sans, sans-serif" font-weight="bold" stroke="#0a0a0a" stroke-width="0.25" fill="#0a0a0a" >+</text>
<text x="575.5" y="686.6" font-size="13.5" text-anchor="middle" font-family="Liberation Sans, sans-serif" font-weight="bold" stroke="#0a0a0a" stroke-width="0.25" fill="#0a0a0a" >+</text>
<text x="425.5" y="704.6" font-size="13.5" text-anchor="middle" font-family="Liberation Sans, sans-serif" font-weight="bold" stroke="#0a0a0a" stroke-width="0.25" fill="#0a0a0a" >-</text>
<text x="477.3" y="704.6" font-size="13.5" text-anchor="middle" font-family="Liberation Sans, sans-serif" font-weight="bold" stroke="#0a0a0a" stroke-width="0.25" fill="#0a0a0a" >+</text>
<text x="526.6" y="704.6" font-size="13.5" text-anchor="middle" font-family="Liberation Sans, sans-serif" font-weight="bold" stroke="#0a0a0a" stroke-width="0.25" fill="#0a0a0a" >-</text>
<text x="575.5" y="704.6" font-size="13.5" text-anchor="middle" font-family="Liberation Sans, sans-serif" font-weight="bold" stroke="#0a0a0a" stroke-width="0.25" fill="#0a0a0a" >+</text>
<text x="598.9" y="686.2" font-size="13.7" text-anchor="start" font-family="Liberation Sans, sans-serif" font-weight="bold" stroke="#0a0a0a" stroke-width="0.25" fill="#0a0a0a" >Romidepsin</text>
<text x="598.9" y="705.0" font-size="13.7" text-anchor="start" font-family="Liberation Sans, sans-serif" font-weight="bold" stroke="#0a0a0a" stroke-width="0.25" fill="#0a0a0a" >Zn</text>
</svg></body></html>
